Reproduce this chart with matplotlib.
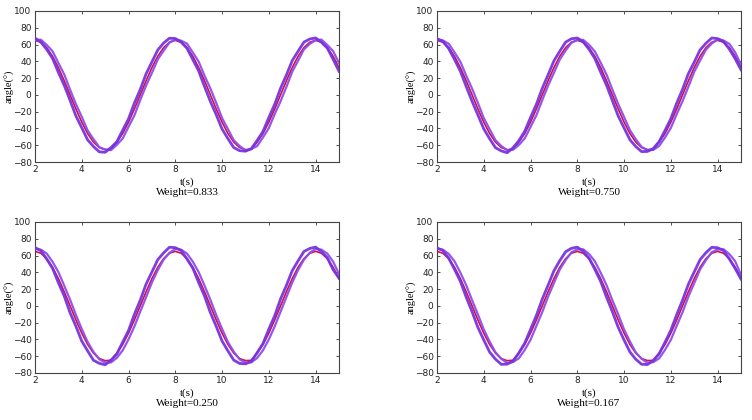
import matplotlib
matplotlib.use("Agg")
import matplotlib.pyplot as plt
import numpy as np

# ---------------- data ----------------
t = [2.0, 2.25, 2.5, 2.75, 3.0, 3.25, 3.5, 3.75, 4.0, 4.25, 4.5, 4.75,
     5.0, 5.25, 5.5, 5.75, 6.0, 6.25, 6.5, 6.75, 7.0, 7.25, 7.5, 7.75,
     8.0, 8.25, 8.5, 8.75, 9.0, 9.25, 9.5, 9.75, 10.0, 10.25, 10.5, 10.75,
     11.0, 11.25, 11.5, 11.75, 12.0, 12.25, 12.5, 12.75, 13.0, 13.25, 13.5, 13.75,
     14.0, 14.25, 14.5, 14.75, 15.0]

red_ref = [65.0, 62.8, 56.3, 46.0, 32.5, 16.8, 0.0, -16.8, -32.5, -46.0, -56.3, -62.8,
           -65.3, -64.8, -56.3, -46.0, -32.5, -16.8, 0.0, 16.8, 32.5, 46.0, 56.3, 62.8,
           65.0, 62.8, 56.3, 46.0, 32.5, 16.8, 0.0, -16.8, -32.5, -46.0, -56.3, -62.8,
           -65.2, -64.9, -56.3, -46.0, -32.5, -16.8, 0.0, 16.8, 32.5, 46.0, 56.3, 62.8,
           65.0, 62.8, 56.3, 46.0, 32.5]

w833_a = [67.7, 63.0, 54.2, 43.5, 26.8, 11.4, -6.5, -25.1, -39.2, -53.6, -61.5, -67.9,
          -68.4, -62.8, -55.9, -42.1, -28.5, -9.8, 6.4, 25.0, 39.3, 53.5, 61.8, 67.5,
          67.2, 62.9, 55.6, 42.0, 28.4, 9.9, -7.8, -23.6, -40.7, -52.1, -62.8, -66.5,
          -67.1, -64.2, -54.3, -43.6, -26.9, -11.3, 7.8, 23.6, 40.8, 52.0, 62.9, 66.6,
          67.9, 62.7, 55.8, 42.3, 28.2]
w833_b = [65.4, 65.8, 59.6, 52.0, 38.1, 24.4, 6.2, -11.0, -26.2, -42.3, -52.7, -62.3,
          -65.1, -65.9, -59.5, -52.0, -38.0, -24.5, -6.1, 11.1, 26.2, 42.3, 52.6, 62.4,
          66.0, 64.6, 61.1, 50.5, 39.6, 22.8, 7.6, -9.6, -27.7, -40.8, -54.1, -60.9,
          -66.3, -64.5, -61.0, -50.6, -39.5, -22.8, -7.7, 9.5, 27.6, 40.7, 54.2, 60.8,
          65.3, 65.9, 59.5, 52.1, 38.0]

w750_a = [67.0, 63.9, 55.3, 42.2, 28.1, 10.0, -7.6, -24.0, -40.5, -52.2, -62.9, -66.8,
          -68.9, -63.1, -54.6, -43.5, -27.0, -11.2, 7.7, 23.8, 40.6, 52.0, 62.9, 66.9,
          67.8, 63.2, 54.4, 43.4, 27.0, 11.5, -6.8, -25.2, -39.4, -53.5, -61.6, -67.6,
          -67.4, -63.9, -55.7, -42.5, -28.3, -9.9, 6.6, 25.3, 39.0, 53.6, 61.5, 67.8,
          67.1, 63.8, 54.6, 43.1, 30.0]
w750_b = [66.1, 64.9, 61.0, 50.6, 39.5, 22.9, 7.5, -9.7, -27.6, -40.9, -54.0, -61.0,
          -66.0, -65.4, -59.7, -51.9, -38.2, -24.3, -6.3, 11.0, 26.3, 42.2, 52.8, 62.2,
          65.6, 65.6, 59.8, 51.8, 38.3, 24.2, 6.4, -10.9, -26.4, -42.0, -52.9, -62.1,
          -65.8, -65.6, -60.9, -50.8, -39.4, -23.0, -7.4, 9.8, 27.5, 41.0, 53.9, 61.2,
          66.2, 64.8, 60.9, 50.7, 36.0]

w250_a = [69.6, 65.8, 55.9, 44.8, 27.6, 11.8, -8.2, -24.3, -42.0, -53.6, -64.8, -68.5,
          -70.2, -64.7, -57.3, -43.2, -29.3, -10.1, 6.7, 25.9, 40.4, 55.1, 63.2, 69.9,
          69.4, 66.0, 55.9, 44.9, 27.7, 11.7, -8.1, -24.4, -41.9, -53.7, -64.7, -68.6,
          -69.1, -66.1, -55.8, -44.9, -27.6, -11.8, 8.2, 24.3, 42.0, 53.7, 64.8, 68.5,
          70.1, 64.6, 57.4, 43.1, 33.0]
w250_b = [67.9, 67.0, 62.4, 52.6, 40.3, 24.0, 7.4, -10.8, -27.5, -43.0, -54.8, -63.7,
          -67.5, -67.4, -62.0, -53.0, -39.8, -24.5, -6.9, 10.3, 27.9, 42.6, 55.2, 63.3,
          67.9, 67.0, 62.4, 52.6, 40.2, 24.1, 7.3, -10.9, -27.4, -43.1, -54.7, -63.8,
          -67.6, -67.3, -62.1, -52.9, -39.9, -24.4, -7.0, 10.4, 27.8, 42.7, 55.1, 63.4,
          67.8, 67.1, 62.3, 52.7, 38.0]

w167_a = [69.0, 66.2, 56.9, 43.5, 29.2, 10.3, -6.9, -25.7, -40.6, -55.0, -63.5, -69.7,
          -69.4, -65.9, -56.1, -44.5, -28.0, -11.4, 7.9, 24.6, 41.8, 53.9, 64.5, 68.7,
          70.0, 65.1, 57.0, 43.6, 29.1, 10.4, -7.0, -25.6, -40.7, -54.9, -63.6, -69.6,
          -69.9, -65.0, -57.1, -43.4, -29.0, -10.5, 6.8, 25.7, 40.5, 55.1, 63.4, 69.8,
          69.3, 66.0, 56.0, 44.6, 32.0]
w167_b = [68.2, 66.9, 62.0, 53.1, 39.6, 24.6, 6.8, -10.2, -28.0, -42.5, -55.3, -63.2,
          -68.0, -66.9, -62.5, -52.5, -40.4, -23.9, -7.5, 11.0, 27.2, 43.3, 54.6, 63.9,
          67.4, 67.5, 61.9, 53.2, 39.5, 24.7, 6.7, -10.1, -28.1, -42.4, -55.4, -63.1,
          -67.9, -67.0, -62.6, -52.4, -40.5, -23.8, -7.6, 11.1, 27.1, 43.4, 54.5, 64.0,
          67.3, 67.6, 61.8, 53.3, 37.0]

weights = ["Weight=0.833", "Weight=0.750", "Weight=0.250", "Weight=0.167"]
series_a = [w833_a, w750_a, w250_a, w167_a]
series_b = [w833_b, w750_b, w250_b, w167_b]

x_ticks = [2, 4, 6, 8, 10, 12, 14]
y_ticks = [-80, -60, -40, -20, 0, 20, 40, 60, 80, 100]

# ---------------- figure ----------------
W, H = 752, 420
fig = plt.figure(figsize=(W / 100, H / 100), dpi=100)

serif = ["Liberation Serif", "DejaVu Serif"]
boxes = [(35, 11, 339, 162), (437, 11, 741, 162),
         (35, 222, 339, 373), (437, 222, 741, 373)]

red_col = "#D3103C"
pur_a = "#7733E0"
pur_b = "#8E4CF0"

for i, (l, tp, r, b) in enumerate(boxes):
    ax = fig.add_axes([l / W, 1 - b / H, (r - l) / W, (b - tp) / H])
    ax.plot(t, red_ref, color=red_col, lw=1.2, zorder=2)
    ax.plot(t, series_b[i], color=pur_b, lw=1.6, zorder=3, alpha=0.95)
    ax.plot(t, series_a[i], color=pur_a, lw=2.0, zorder=4, alpha=0.95)
    ax.set_xlim(2, 15)
    ax.set_ylim(-80, 100)
    ax.set_xticks(x_ticks)
    ax.set_yticks(y_ticks)
    ax.tick_params(direction="in", length=2.5, width=0.6, labelsize=6.5,
                   top=True, right=True, colors="#333333", labelcolor="#222222",
                   pad=2.5)
    for s in ax.spines.values():
        s.set_color("#444444")
        s.set_linewidth(0.8)
    ax.set_ylabel("angle(°)", family=serif, fontsize=7.5)
    ax.yaxis.set_label_coords(-20 / (r - l), 0.5)
    cx = (l + r) / 2 / W
    fig.text(cx, 1 - (b + 20) / H, "t(s)", family=serif, fontsize=8,
             ha="center", va="center")
    fig.text(cx, 1 - (b + 31) / H, weights[i], family=serif, fontsize=8,
             ha="center", va="center")

fig.savefig("out.png", dpi=100)
